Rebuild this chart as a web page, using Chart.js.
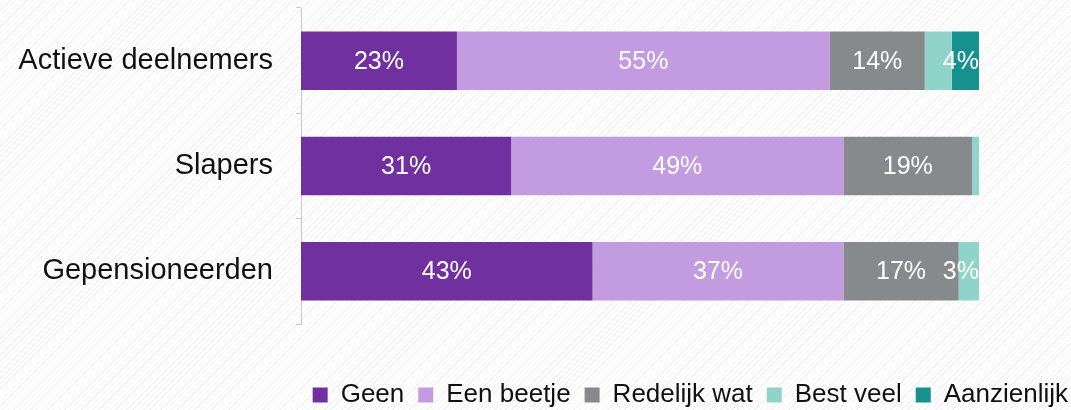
<!DOCTYPE html>
<html>
<head>
<meta charset="utf-8">
<script src="https://cdn.jsdelivr.net/npm/chart.js@4.4.1/dist/chart.umd.min.js"></script>
<style>
  html, body {
    margin: 0;
    padding: 0;
    overflow: hidden;
    background: #fff repeating-linear-gradient(135deg, #fff 0 3px, #f2f2f2 3px 4px);
  }
  #wrap { width: 1071px; height: 410px; }
</style>
</head>
<body>
<div id="wrap"><canvas id="chart"></canvas></div>
<script>
const groups = ["Actieve deelnemers", "Slapers", "Gepensioneerden"];
const seriesNames = ["Geen", "Een beetje", "Redelijk wat", "Best veel", "Aanzienlijk"];

// percentages per group, in the order of the groups above
const geen = [23, 31, 43];
const eenBeetje = [55, 49, 37];
const redelijkWat = [14, 19, 17];
const bestVeel = [4, 1, 3];
const aanzienlijk = [4, 0, 0];

// segments that carry no value label
const hideLabels = ["Best veel|Actieve deelnemers", "Best veel|Slapers", "Aanzienlijk|Slapers", "Aanzienlijk|Gepensioneerden"];

const colors = ["#7030a0", "#c39be0", "#878a8d", "#90d4c9", "#16928e"];
const fontFamily = '"Liberation Sans", Arial, sans-serif';

const barLabels = {
  id: "barLabels",
  afterDatasetsDraw(chart) {
    const { ctx, chartArea } = chart;
    ctx.save();
    ctx.beginPath();
    ctx.rect(chartArea.left, chartArea.top, chartArea.width, chartArea.height);
    ctx.clip();
    ctx.font = "25px " + fontFamily;
    ctx.fillStyle = "#fff";
    ctx.textAlign = "center";
    ctx.textBaseline = "middle";
    chart.data.datasets.forEach((ds, i) => {
      chart.getDatasetMeta(i).data.forEach((bar, j) => {
        if (hideLabels.includes(ds.label + "|" + groups[j])) return;
        const text = ds.data[j] + "%";
        const w = ctx.measureText(text).width;
        const { x, base, y } = bar.getProps(["x", "base", "y"], true);
        const cx = Math.min((x + base) / 2, chartArea.right - w / 2);
        ctx.fillText(text, cx, y + 1);
      });
    });
    ctx.restore();
  }
};

const values = [geen, eenBeetje, redelijkWat, bestVeel, aanzienlijk];

// empty axis used only to reserve room around the plot
const blankAxis = (size) => ({
  display: true,
  grid: { display: false },
  border: { display: false },
  ticks: { display: false },
  afterFit(scale) {
    if (scale.isHorizontal()) scale.height = size; else scale.width = size;
    scale.paddingTop = scale.paddingBottom = 0;
  }
});

new Chart(document.getElementById("chart"), {
  type: "bar",
  data: {
    labels: groups,
    datasets: seriesNames.map((name, i) => ({
      label: name,
      data: values[i],
      backgroundColor: colors[i],
      borderWidth: 0,
      barPercentage: 0.555,
      categoryPercentage: 1
    }))
  },
  options: {
    indexAxis: "y",
    responsive: true,
    maintainAspectRatio: false,
    animation: false,
    layout: { padding: { top: 8, left: 17, right: -11, bottom: -8 } },
    scales: {
      x: Object.assign(blankAxis(44), { stacked: true, min: 0, max: 100 }),
      y: {
        stacked: true,
        offset: true,
        afterFit(scale) {
          scale.width = 284;
          scale.paddingTop = scale.paddingBottom = 0;
        },
        grid: {
          display: true,
          offset: true,
          drawOnChartArea: false,
          drawTicks: true,
          tickLength: 5,
          color: "#c8c8c8"
        },
        border: { display: true, color: "#c8c8c8", width: 1 },
        ticks: {
          padding: 23,
          color: "#111",
          font: { family: fontFamily, size: 29 }
        }
      },
      spacer: Object.assign(blankAxis(103), { type: "linear", position: "right" })
    },
    plugins: {
      legend: {
        position: "bottom",
        align: "end",
        labels: {
          boxWidth: 15,
          boxHeight: 15,
          padding: 14,
          color: "#111",
          font: { family: fontFamily, size: 26 }
        }
      },
      tooltip: { enabled: false }
    }
  },
  plugins: [barLabels]
});
</script>
</body>
</html>
